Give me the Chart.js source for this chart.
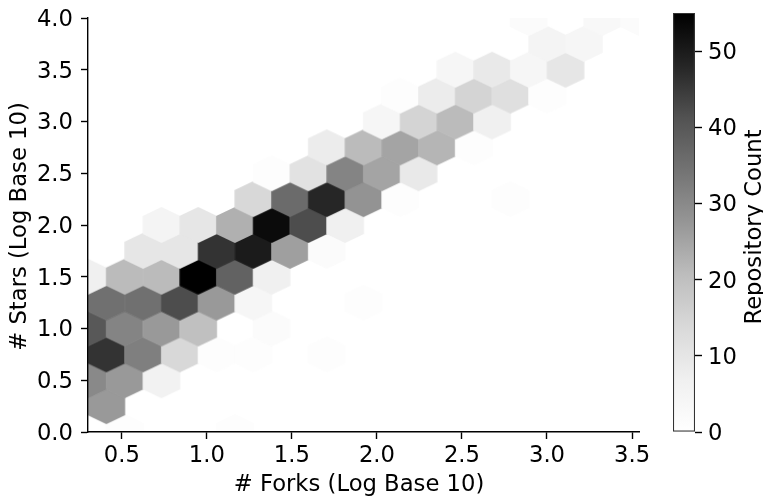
<!DOCTYPE html>
<html>
<head>
<meta charset="utf-8">
<script src="https://cdn.jsdelivr.net/npm/chart.js@4"></script>
<style>
    html, body { margin: 0; padding: 0; background: #fff; }
    #wrap { position: relative; width: 763px; height: 500px; overflow: hidden; }
    canvas { position: absolute; top: 0; }
    #hexChart { left: 0; }
    #barChart { left: 663px; }
</style>
</head>
<body>
<div id="wrap">
    <canvas id="hexChart" width="763" height="500"></canvas>
    <canvas id="barChart" width="100" height="500"></canvas>
</div>
<script>
// hex centres, one row per line (stars = log10)
const hexX = [
    0.517, 1.165,
    0.409,
    0.301, 0.517, 0.733,
    0.409, 0.625, 0.841, 1.057, 1.273, 1.705,
    0.301, 0.517, 0.733, 0.949, 1.381,
    0.409, 0.625, 0.841, 1.057, 1.273, 1.921,
    0.301, 0.517, 0.733, 0.949, 1.165, 1.381,
    0.625, 0.841, 1.057, 1.273, 1.489, 1.705,
    0.733, 0.949, 1.165, 1.381, 1.597, 1.813,
    1.273, 1.489, 1.705, 1.921, 2.137, 2.785,
    1.381, 1.597, 1.813, 2.029, 2.245,
    1.705, 1.921, 2.137, 2.353, 2.569,
    2.029, 2.245, 2.461, 2.677,
    2.137, 2.353, 2.569, 2.785, 3.001,
    2.461, 2.677, 2.893, 3.109,
    3.001, 3.217,
    2.893, 3.325, 3.541
];
const hexY = [
    0, 0,
    0.25,
    0.5, 0.5, 0.5,
    0.75, 0.75, 0.75, 0.75, 0.75, 0.75,
    1, 1, 1, 1, 1,
    1.25, 1.25, 1.25, 1.25, 1.25, 1.25,
    1.5, 1.5, 1.5, 1.5, 1.5, 1.5,
    1.75, 1.75, 1.75, 1.75, 1.75, 1.75,
    2, 2, 2, 2, 2, 2,
    2.25, 2.25, 2.25, 2.25, 2.25, 2.25,
    2.5, 2.5, 2.5, 2.5, 2.5,
    2.75, 2.75, 2.75, 2.75, 2.75,
    3, 3, 3, 3,
    3.25, 3.25, 3.25, 3.25, 3.25,
    3.5, 3.5, 3.5, 3.5,
    3.75, 3.75,
    4, 4, 4
];
const hexCount = [
    1, 1,
    27,
    30, 27, 6,
    46, 32, 14, 1, 1, 1,
    40, 31, 27, 20, 2,
    35, 35, 42, 27, 4, 1,
    7, 21, 21, 55, 38, 7,
    10, 10, 46, 50, 26, 2,
    5, 10, 23, 53, 42, 7,
    14, 36, 48, 28, 1, 1,
    1, 11, 31, 25, 9,
    8, 21, 25, 22, 1,
    4, 15, 21, 7,
    1, 8, 15, 12, 1,
    4, 9, 4, 10,
    5, 4,
    2, 3, 2
];
const xTicks = [0.5, 1.0, 1.5, 2.0, 2.5, 3.0, 3.5];
const yTicks = [0, 0.5, 1.0, 1.5, 2.0, 2.5, 3.0, 3.5, 4.0];
const countTicks = [0, 10, 20, 30, 40, 50];
const countMax = 55;
const grayLevels = [255, 240, 217, 189, 150, 115, 82, 37, 0];
const xTitle = '# Forks (Log Base 10)';
const yTitle = '# Stars (Log Base 10)';
const countTitle = 'Repository Count';

const fontName = '"DejaVu Sans"';
const fontSize = 22.7;
const inkColor = '#000';
Chart.defaults.font.family = fontName;
Chart.defaults.font.size = fontSize;
Chart.defaults.color = inkColor;

function countColor(count) {
    const pos = Math.min(count / countMax, 1) * (grayLevels.length - 1);
    const low = Math.floor(pos);
    const high = Math.min(low + 1, grayLevels.length - 1);
    const g = Math.round(grayLevels[low] + (grayLevels[high] - grayLevels[low]) * (pos - low));
    return `rgb(${g},${g},${g})`;
}

// pointStyle image for a hex of one colour, a little oversized so neighbours leave no seam
const hexImages = {};
function hexImage(color) {
    if (hexImages[color]) return hexImages[color];
    const c = document.createElement('canvas');
    c.width = 40;
    c.height = 38;
    const g = c.getContext('2d');
    g.fillStyle = color;
    g.beginPath();
    g.moveTo(20, 1);
    g.lineTo(38.8, 10);
    g.lineTo(38.8, 28);
    g.lineTo(20, 37);
    g.lineTo(1.2, 28);
    g.lineTo(1.2, 10);
    g.closePath();
    g.fill();
    hexImages[color] = c;
    return c;
}

// keep the plot box where it was set, whatever size the tick labels are
function noTickPadding(axis) {
    axis.paddingTop = 0;
    axis.paddingBottom = 0;
    axis.paddingLeft = 0;
    axis.paddingRight = 0;
}

// axis titles sit a few px off the axis centres in the original, and the colorbar one reads upward
function drawTitle(ctx, text, x, y, upward) {
    ctx.save();
    ctx.translate(x, y);
    if (upward) ctx.rotate(-Math.PI / 2);
    ctx.font = `${fontSize}px ${fontName}`;
    ctx.fillStyle = inkColor;
    ctx.textAlign = 'center';
    ctx.textBaseline = 'alphabetic';
    ctx.fillText(text, 0, 0);
    ctx.restore();
}

const hexTitles = {
    id: 'hexTitles',
    afterDraw(chart) {
        drawTitle(chart.ctx, xTitle, 359, 491, false);
        drawTitle(chart.ctx, yTitle, 26, 226.5, true);
    }
};

const cbarTitle = {
    id: 'cbarTitle',
    afterDraw(chart) {
        drawTitle(chart.ctx, countTitle, 98, 227, true);
    }
};

new Chart(document.getElementById('hexChart'), {
    type: 'scatter',
    data: {
        datasets: [{
            label: countTitle,
            data: hexX.map((x, i) => ({ x: x, y: hexY[i], count: hexCount[i] })),
            clip: 0,
            pointRadius: 18,
            pointHoverRadius: 18,
            pointBorderWidth: 0,
            pointStyle: ctx => hexImage(countColor(hexCount[ctx.dataIndex] || 0))
        }]
    },
    options: {
        responsive: false,
        animation: false,
        layout: { padding: { top: 14, right: 124, left: 0, bottom: 0 } },
        plugins: { legend: { display: false }, tooltip: { enabled: false } },
        scales: {
            x: {
                type: 'linear',
                min: 0.301,
                max: 3.541,
                border: { color: inkColor, width: 1.4, z: 1 },
                grid: { drawOnChartArea: false, tickLength: 7, tickColor: inkColor, tickWidth: 1.4 },
                afterBuildTicks: axis => { axis.ticks = xTicks.map(v => ({ value: v })); },
                afterFit: axis => { axis.height = 68; noTickPadding(axis); },
                ticks: { padding: 3, maxRotation: 0, callback: v => Number(v).toFixed(1) }
            },
            y: {
                type: 'linear',
                min: 0,
                max: 4,
                border: { color: inkColor, width: 1.4, z: 1 },
                grid: { drawOnChartArea: false, tickLength: 7, tickColor: inkColor, tickWidth: 1.4 },
                afterBuildTicks: axis => { axis.ticks = yTicks.map(v => ({ value: v })); },
                afterFit: axis => { axis.width = 88; noTickPadding(axis); },
                ticks: { padding: 8, labelOffset: 2, callback: v => Number(v).toFixed(1) }
            }
        }
    },
    plugins: [hexTitles]
});

// colorbar: one floating bar on a 0-55 axis, filled with the same gray ramp
const cbarGradient = ctx => {
    const area = ctx.chart.chartArea;
    if (!area) return '#888';
    const grad = ctx.chart.ctx.createLinearGradient(0, area.bottom, 0, area.top);
    grayLevels.forEach((g, i) => grad.addColorStop(i / (grayLevels.length - 1), `rgb(${g},${g},${g})`));
    return grad;
};

new Chart(document.getElementById('barChart'), {
    type: 'bar',
    data: {
        labels: ['count'],
        datasets: [{
            data: [[0, countMax]],
            backgroundColor: cbarGradient,
            borderColor: '#333',
            borderWidth: 1.4,
            borderSkipped: false,
            barPercentage: 1,
            categoryPercentage: 1
        }]
    },
    options: {
        responsive: false,
        animation: false,
        layout: { padding: { top: 13, bottom: 68, left: 10, right: 0 } },
        plugins: { legend: { display: false }, tooltip: { enabled: false } },
        scales: {
            x: { display: false },
            y: {
                position: 'right',
                min: 0,
                max: countMax,
                border: { display: false },
                grid: { drawOnChartArea: false, tickLength: 7, tickColor: inkColor, tickWidth: 1.4 },
                afterBuildTicks: axis => { axis.ticks = countTicks.map(v => ({ value: v })); },
                afterFit: axis => { axis.width = 68; noTickPadding(axis); },
                ticks: { padding: 6, labelOffset: 2 }
            }
        }
    },
    plugins: [cbarTitle]
});
</script>
</body>
</html>
